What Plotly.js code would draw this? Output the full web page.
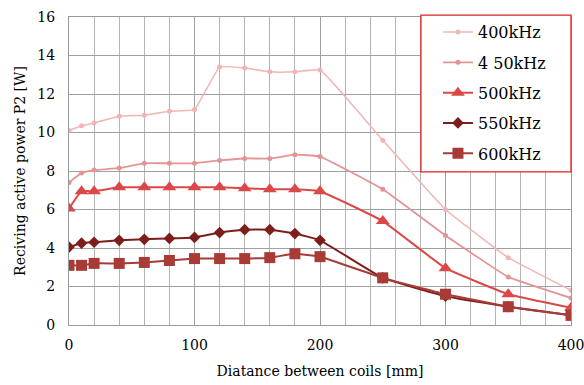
<!DOCTYPE html>
<html><head><meta charset="utf-8">
<script src="https://cdn.plot.ly/plotly-3.0.1.min.js"></script>
<style>html,body{margin:0;padding:0;background:#fff}#c{width:584px;height:385px}</style>
</head><body><div id="c"></div>
<script>
const distance = [0, 10, 20, 40, 60, 80, 100, 120, 140, 160, 180, 200, 250, 300, 350, 400];
const p400 = [10.1, 10.35, 10.5, 10.85, 10.9, 11.1, 11.2, 13.4, 13.35, 13.15, 13.15, 13.25, 9.6, 6.0, 3.5, 1.8];
const p450 = [7.4, 7.9, 8.05, 8.15, 8.4, 8.4, 8.4, 8.55, 8.65, 8.65, 8.85, 8.75, 7.05, 4.65, 2.5, 1.4];
const p500 = [6.05, 6.95, 6.95, 7.15, 7.15, 7.15, 7.15, 7.15, 7.1, 7.05, 7.05, 6.95, 5.4, 2.95, 1.6, 0.9];
const p550 = [4.05, 4.25, 4.3, 4.4, 4.45, 4.5, 4.55, 4.8, 4.95, 4.95, 4.75, 4.4, 2.45, 1.5, 0.95, 0.5];
const p600 = [3.1, 3.1, 3.2, 3.2, 3.25, 3.35, 3.45, 3.45, 3.45, 3.5, 3.7, 3.55, 2.45, 1.6, 0.95, 0.5];
const seriesNames = ['400kHz', '4 50kHz', '500kHz', '550kHz', '600kHz'];

const serif = 'DejaVu Serif, Liberation Serif, serif';
function tr(y, name, color, width, sym, size) {
  return {x: distance, y: y, name: name, type: 'scatter', mode: 'lines+markers',
    legendgroup: name,
    line: {color: color, width: width, shape: 'spline', smoothing: 0.3},
    marker: {color: color, symbol: sym, size: size}};
}
const data = [
  tr(p400, seriesNames[0], '#f2b4b4', 1.5, 'circle', 5),
  tr(p450, seriesNames[1], '#e49494', 1.8, 'circle', 5),
  tr(p500, seriesNames[2], '#dc4848', 2, 'triangle-up', 12),
  tr(p550, seriesNames[3], '#7e1e1c', 2, 'diamond', 9),
  tr(p600, seriesNames[4], '#a83b36', 2, 'square', 11)
];
const layout = {
  width: 584, height: 385,
  margin: {l: 69, r: 13, t: 17, b: 60},
  paper_bgcolor: '#fff', plot_bgcolor: '#fff',
  font: {family: serif, color: '#000', size: 14},
  showlegend: true,
  legend: {x: 0.735, xanchor: 'left', y: 1.006, yanchor: 'top',
    bgcolor: 'rgba(0,0,0,0)', borderwidth: 0,
    font: {family: serif, size: 16, color: '#000'}, tracegroupgap: 6.5, itemwidth: 30},
  shapes: [{type: 'rect', xref: 'paper', yref: 'paper', x0: 0.701, x1: 1.0, y0: 0.497, y1: 1.006,
    line: {color: '#e02020', width: 1.3}, fillcolor: '#fff', layer: 'above'}],
  xaxis: {range: [0, 400], tickvals: [0, 100, 200, 300, 400], ticks: '',
    showgrid: true, gridcolor: '#a0a0a0', gridwidth: 1,
    minor: {dtick: 20, tick0: 0, showgrid: true, gridcolor: '#b4b4b4', gridwidth: 1},
    showline: true, linecolor: '#999', mirror: true, zeroline: false,
    ticklabeloverflow: 'allow',
    tickfont: {family: serif, size: 14, color: '#000'}, ticklabelstandoff: 7,
    title: {text: 'Diatance between coils [mm]', font: {family: serif, size: 14, color: '#000'}, standoff: 14}},
  yaxis: {range: [0, 16], dtick: 2, ticks: '',
    showgrid: true, gridcolor: '#a0a0a0', gridwidth: 1,
    showline: true, linecolor: '#999', mirror: true, zeroline: false,
    tickfont: {family: serif, size: 14, color: '#000'}, ticklabelstandoff: 10,
    title: {text: 'Reciving active power P2 [W]', font: {family: serif, size: 14, color: '#000'}, standoff: 8}}
};
Plotly.newPlot('c', data, layout, {displayModeBar: false, staticPlot: true});
</script></body></html>
